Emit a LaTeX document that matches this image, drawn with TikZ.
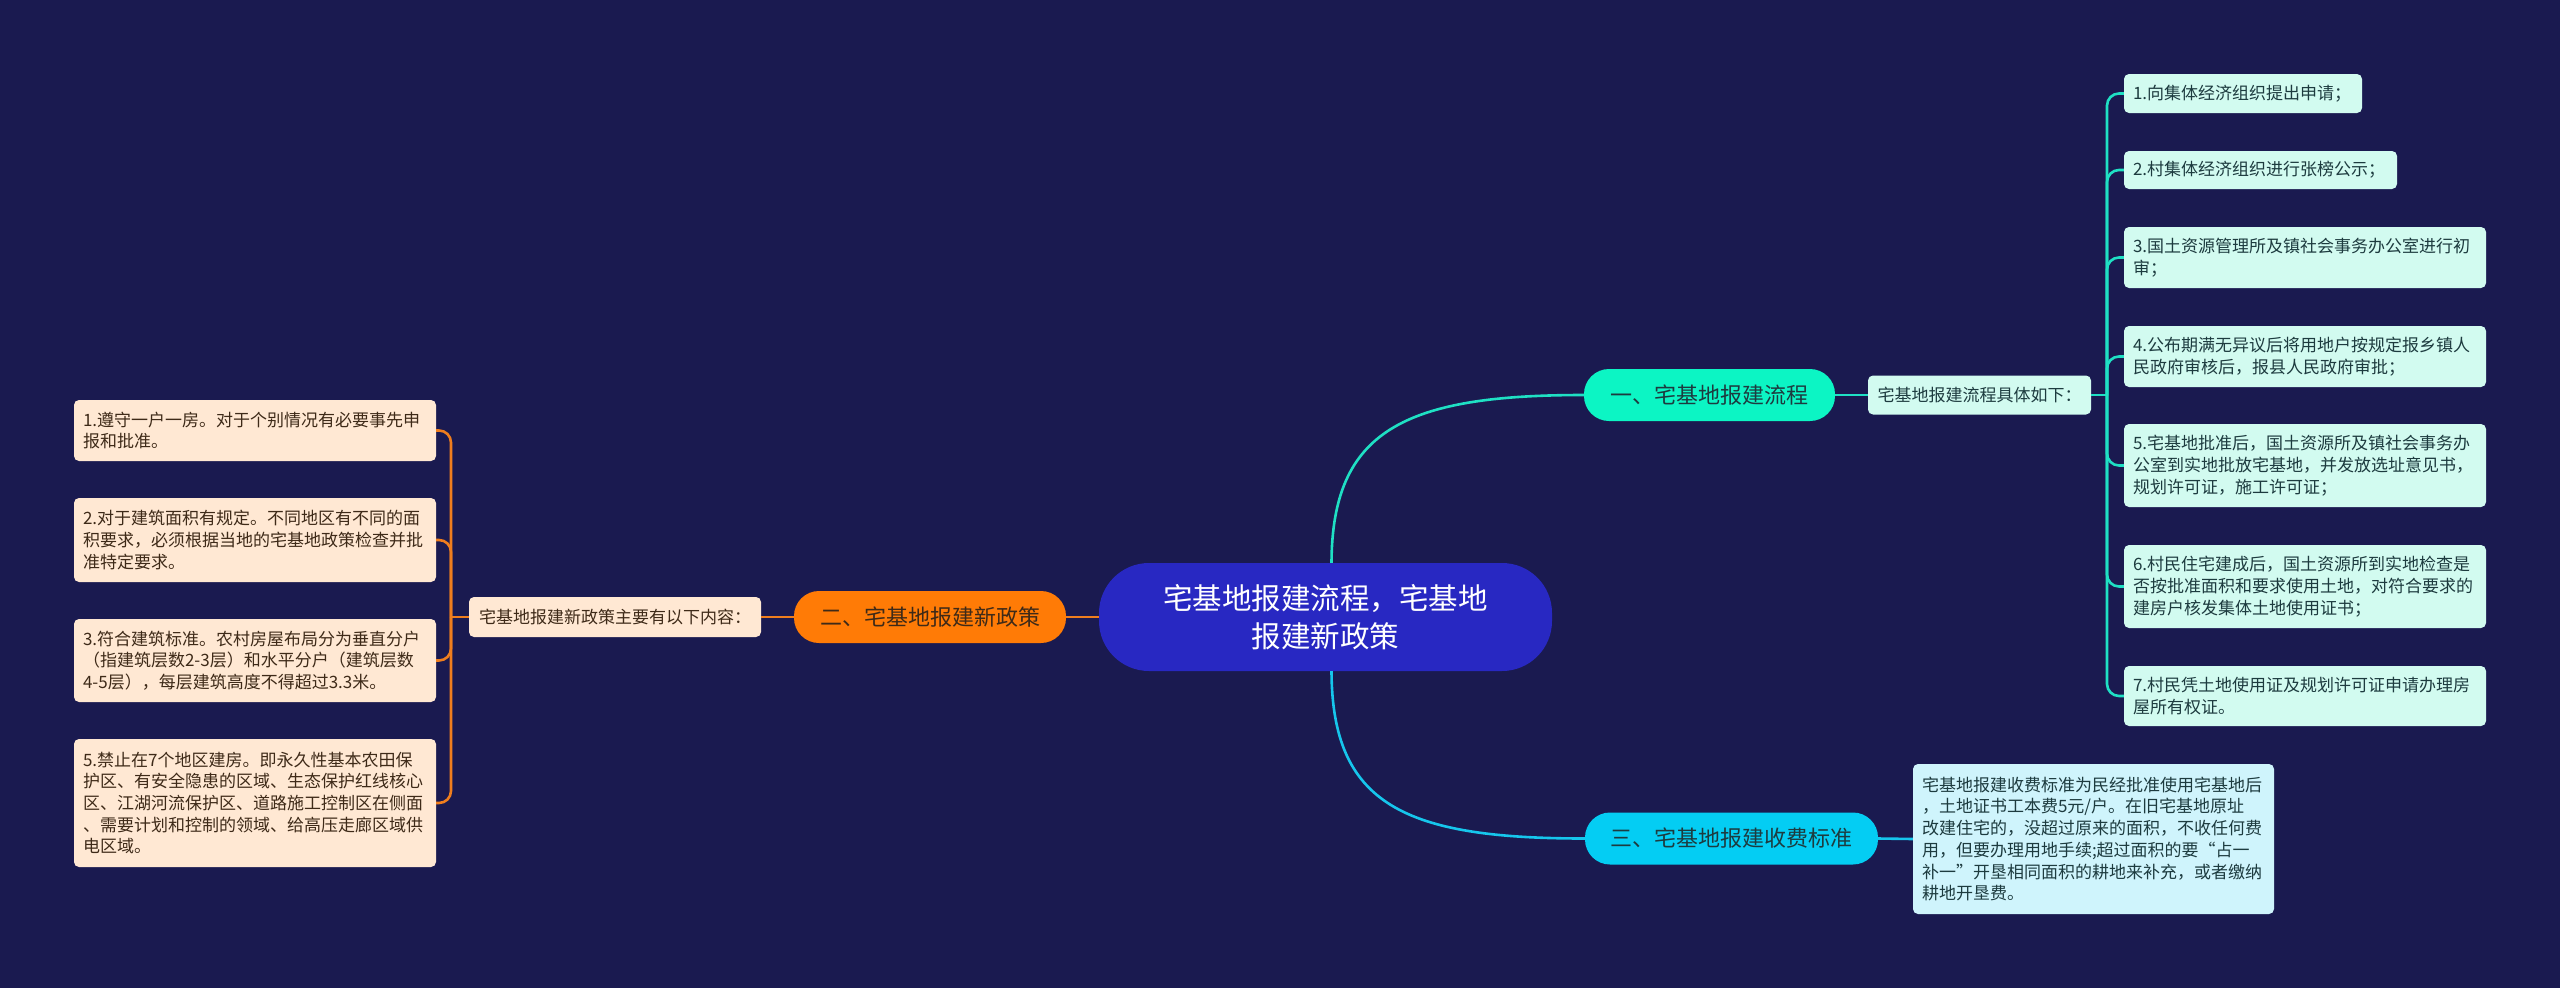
\documentclass[tikz,border=0pt]{standalone}
\usepackage{fontspec}
\setmainfont{Noto Sans CJK SC}
\definecolor{bg}{HTML}{1A1A50}
\definecolor{cmain}{HTML}{2828C2}
\definecolor{cgreen}{HTML}{0CF5C4}
\definecolor{lgreen}{HTML}{1FE0C4}
\definecolor{mint}{HTML}{D2FBF0}
\definecolor{corange}{HTML}{FF7B06}
\definecolor{lorange}{HTML}{EF7E1E}
\definecolor{peach}{HTML}{FFE8D3}
\definecolor{ccyan}{HTML}{04CDF3}
\definecolor{lcyan}{HTML}{16C6EC}
\definecolor{lightcyan}{HTML}{CFF4FC}
\definecolor{tgreen}{HTML}{1D3B3F}
\definecolor{tbrown}{HTML}{3E2A18}
\tikzset{
  rootbox/.style={fill=cmain, text=white, rounded corners=50pt, align=center,
    font=\fontsize{29.5}{38}\selectfont, minimum width=453pt, minimum height=108pt, inner sep=0pt},
  mainbox/.style={rounded corners=25pt, align=center, font=\fontsize{22}{26}\selectfont,
    minimum height=52pt, inner sep=0pt},
  leaf/.style={rounded corners=5pt, align=left, inner xsep=9pt, inner ysep=0pt,
    font=\fontsize{17}{21.7}\selectfont},
  mleaf/.style={leaf, fill=mint, text=tgreen},
  pleaf/.style={leaf, fill=peach, text=tbrown},
  cleaf/.style={leaf, fill=lightcyan, text=tgreen},
  gline/.style={draw=lgreen, line width=2.6pt},
  oline/.style={draw=lorange, line width=2.6pt},
  cline/.style={draw=lcyan, line width=2.6pt},
}
\begin{document}
\begin{tikzpicture}[x=1pt, y=-1pt]
\useasboundingbox (0,0) rectangle (2560,988);
\fill[bg] (0,0) rectangle (2560,988);

% root
\node[rootbox] (root) at (1325.5,617) {宅基地报建流程，宅基地\\报建新政策};

% branch 1
\node[mainbox, fill=cgreen, text=tgreen, minimum width=251pt] (b1) at (1709.5,395) {一、宅基地报建流程};
\node[mleaf, minimum width=223pt, minimum height=39pt] (s1) at (1979.5,395) {宅基地报建流程具体如下：};
\coordinate (h1) at (2107,395);

\node[mleaf, minimum height=39pt, text width=220pt] (r1) at (2243,93.5) {1.向集体经济组织提出申请；};
\node[mleaf, minimum height=38pt, text width=255pt] (r2) at (2260.5,170) {2.村集体经济组织进行张榜公示；};
\node[mleaf, minimum height=61pt, text width=344pt] (r3) at (2305,257.5) {3.国土资源管理所及镇社会事务办公室进行初\\审；};
\node[mleaf, minimum height=61pt, text width=344pt] (r4) at (2305,356.5) {4.公布期满无异议后将用地户按规定报乡镇人\\民政府审核后，报县人民政府审批；};
\node[mleaf, minimum height=83pt, text width=344pt] (r5) at (2305,465.5) {5.宅基地批准后，国土资源所及镇社会事务办\\公室到实地批放宅基地，并发放选址意见书，\\规划许可证，施工许可证；};
\node[mleaf, minimum height=83pt, text width=344pt] (r6) at (2305,586.5) {6.村民住宅建成后，国土资源所到实地检查是\\否按批准面积和要求使用土地，对符合要求的\\建房户核发集体土地使用证书；};
\node[mleaf, minimum height=60pt, text width=344pt] (r7) at (2305,696) {7.村民凭土地使用证及规划许可证申请办理房\\屋所有权证。};

% branch 2
\node[mainbox, fill=corange, text=tbrown, minimum width=272pt] (b2) at (930,617) {二、宅基地报建新政策};
\node[pleaf, minimum width=292pt, minimum height=40pt] (s2) at (615,617) {宅基地报建新政策主要有以下内容：};
\coordinate (h2) at (451,617);

\node[pleaf, minimum height=61pt, text width=344pt] (l1) at (255,430.5) {1.遵守一户一房。对于个别情况有必要事先申\\报和批准。};
\node[pleaf, minimum height=84pt, text width=344pt] (l2) at (255,540) {2.对于建筑面积有规定。不同地区有不同的面\\积要求，必须根据当地的宅基地政策检查并批\\准特定要求。};
\node[pleaf, minimum height=83pt, text width=344pt] (l3) at (255,660.5) {3.符合建筑标准。农村房屋布局分为垂直分户\\（指建筑层数2-3层）和水平分户（建筑层数\\4-5层），每层建筑高度不得超过3.3米。};
\node[pleaf, minimum height=128pt, text width=344pt] (l5) at (255,803) {5.禁止在7个地区建房。即永久性基本农田保\\护区、有安全隐患的区域、生态保护红线核心\\区、江湖河流保护区、道路施工控制区在侧面\\、需要计划和控制的领域、给高压走廊区域供\\电区域。};

% branch 3
\node[mainbox, fill=ccyan, text=tgreen, minimum width=293pt] (b3) at (1731.5,838.5) {三、宅基地报建收费标准};
\node[cleaf, minimum height=150pt, text width=343pt] (s3) at (2093.5,839) {宅基地报建收费标准为民经批准使用宅基地后\\，土地证书工本费5元/户。在旧宅基地原址\\改建住宅的，没超过原来的面积，不收任何费\\用，但要办理用地手续;超过面积的要“占一\\补一”开垦相同面积的耕地来补充，或者缴纳\\耕地开垦费。};

% connectors
\draw[gline] ([xshift=6pt]root.north) .. controls (1332,430) and (1405,395) .. (b1.west);
\draw[cline] ([xshift=6pt]root.south) .. controls (1332,805) and (1405,838.5) .. (b3.west);
\draw[oline] (root.west) -- (b2.east);
\draw[oline] (b2.west) -- (s2.east);
\draw[oline] (s2.west) -- (h2);
\foreach \n in {l1,l2,l3,l5} \draw[oline, rounded corners=12pt] (h2) |- (\n.east);
\draw[gline] (b1.east) -- (s1.west);
\draw[gline] (s1.east) -- (h1);
\foreach \n in {r1,r2,r3,r4,r5,r6,r7} \draw[gline, rounded corners=12pt] (h1) |- (\n.west);
\draw[cline] (b3.east) -- (s3.west);
\end{tikzpicture}
\end{document}
